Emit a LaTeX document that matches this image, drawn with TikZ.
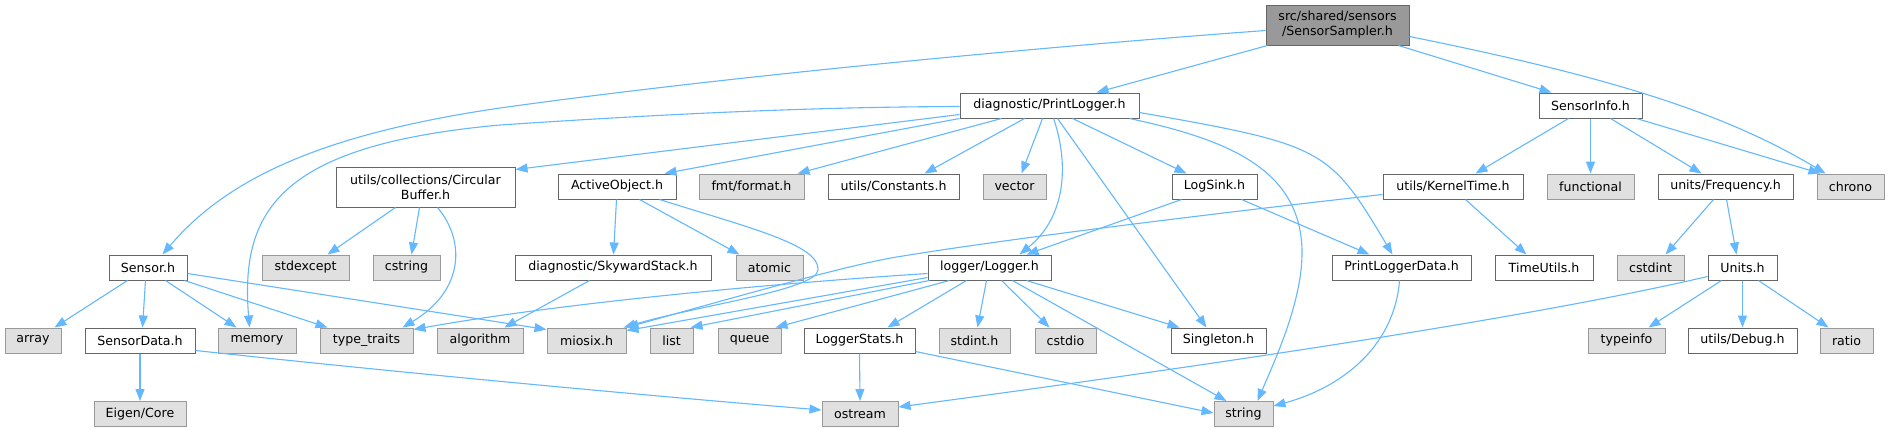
\documentclass[tikz,border=0pt]{standalone}
\usepackage{fontspec}
\setmainfont{DejaVu Sans}
\usetikzlibrary{arrows.meta}
\definecolor{edgec}{HTML}{63B8FF}
\definecolor{nodeborder}{HTML}{666666}
\definecolor{extfill}{HTML}{E0E0E0}
\definecolor{extborder}{HTML}{999999}
\definecolor{rootfill}{HTML}{999999}
\tikzset{
  base/.style={draw, line width=1pt, minimum height=25pt, inner sep=0pt, font=\fontsize{12.6}{15}\selectfont, align=center},
  intn/.style={base, fill=white, draw=nodeborder},
  extn/.style={base, fill=extfill, draw=extborder},
  rootn/.style={base, fill=rootfill, draw=nodeborder, minimum height=40pt},
  conn/.style={draw=edgec, line width=1.1pt, -{Triangle[length=12pt,width=9pt]}}
}
\begin{document}
\begin{tikzpicture}[x=1pt,y=-1pt]
\fill[white] (0,0) rectangle (1889,432);
\useasboundingbox (0,0) rectangle (1889,432);
% row 0
\node[rootn, minimum width=143pt] (root) at (1337.5,25) {src/shared/sensors\\/SensorSampler.h};
% row 1
\node[intn, minimum width=179pt] (pl) at (1049.5,105.5) {diagnostic/PrintLogger.h};
\node[intn, minimum width=103pt] (si) at (1590.5,105.5) {SensorInfo.h};
% row 2
\node[intn, minimum width=179pt, minimum height=40pt] (cb) at (425.5,187) {utils/collections/Circular\\Buffer.h};
\node[intn, minimum width=118pt] (ao) at (617,186.5) {ActiveObject.h};
\node[extn, minimum width=105pt] (fmt) at (751.5,186.5) {fmt/format.h};
\node[intn, minimum width=131pt] (cons) at (893.5,186.5) {utils/Constants.h};
\node[extn, minimum width=63pt] (vec) at (1014.5,186.5) {vector};
\node[intn, minimum width=85pt] (lsink) at (1214.5,186.5) {LogSink.h};
\node[intn, minimum width=140pt] (kt) at (1453,186.5) {utils/KernelTime.h};
\node[extn, minimum width=87pt] (func) at (1590.5,186.5) {functional};
\node[intn, minimum width=135pt] (freq) at (1725.5,186.5) {units/Frequency.h};
\node[extn, minimum width=67pt] (chrono) at (1850.5,186.5) {chrono};
% row 3
\node[intn, minimum width=78pt] (sensor) at (148,267.5) {Sensor.h};
\node[extn, minimum width=87pt] (stdexc) at (305.5,267.5) {stdexcept};
\node[extn, minimum width=67pt] (cstr) at (406.5,267.5) {cstring};
\node[intn, minimum width=196pt] (sky) at (613,267.5) {diagnostic/SkywardStack.h};
\node[extn, minimum width=67pt] (atomic) at (769.5,267.5) {atomic};
\node[intn, minimum width=123pt] (logger) at (989.5,267.5) {logger/Logger.h};
\node[intn, minimum width=139pt] (pld) at (1401.5,267.5) {PrintLoggerData.h};
\node[intn, minimum width=98pt] (tu) at (1544,267.5) {TimeUtils.h};
\node[extn, minimum width=67pt] (cstdint) at (1650.5,267.5) {cstdint};
\node[intn, minimum width=69pt] (units) at (1742.5,267.5) {Units.h};
% row 4
\node[extn, minimum width=56pt] (array) at (33,340.5) {array};
\node[intn, minimum width=110pt] (sdata) at (140,340.5) {SensorData.h};
\node[extn, minimum width=78pt] (memory) at (257,340.5) {memory};
\node[extn, minimum width=93pt] (tt) at (366.5,340.5) {type\_traits};
\node[extn, minimum width=86pt] (algo) at (480,340.5) {algorithm};
\node[extn, minimum width=79pt] (miosix) at (586.5,340.5) {miosix.h};
\node[extn, minimum width=43pt] (list) at (671.5,340.5) {list};
\node[extn, minimum width=63pt] (queue) at (749.5,340.5) {queue};
\node[intn, minimum width=111pt] (lstats) at (859.5,340.5) {LoggerStats.h};
\node[extn, minimum width=71pt] (stdint) at (974.5,340.5) {stdint.h};
\node[extn, minimum width=61pt] (cstdio) at (1065.5,340.5) {cstdio};
\node[intn, minimum width=95pt] (single) at (1218.5,340.5) {Singleton.h};
\node[extn, minimum width=77pt] (typeinfo) at (1626.5,340.5) {typeinfo};
\node[intn, minimum width=109pt] (debug) at (1742.5,340.5) {utils/Debug.h};
\node[extn, minimum width=53pt] (ratio) at (1846.5,340.5) {ratio};
% row 5
\node[extn, minimum width=92pt] (eigen) at (140,414) {Eigen/Core};
\node[extn, minimum width=76pt] (ostream) at (860,414) {ostream};
\node[extn, minimum width=59pt] (string) at (1243.5,414) {string};

% edges from root
\draw[conn] ([yshift=-26pt]root.north west) .. controls (1000,50) and (700,80) .. (500,108) .. controls (330,133) and (230,175) .. ([xshift=54pt]sensor.north west);
\draw[conn] ([xshift=2pt]root.south west) -- ([xshift=137pt]pl.north west);
\draw[conn] ([xshift=133pt]root.south west) -- ([xshift=13pt]si.north west);
\draw[conn] ([yshift=-32pt]root.north east) .. controls (1600,75) and (1720,110) .. ([xshift=9pt]chrono.north west);
% edges from PrintLogger
\draw[conn] ([yshift=-14pt]pl.north west) .. controls (800,107) and (650,115) .. (500,125) .. controls (280,145) and (240,210) .. ([xshift=32pt]memory.north west);
\draw[conn] ([yshift=-22pt]pl.north west) -- ([yshift=-3pt]cb.north east);
\draw[conn] (pl.south west) -- ([xshift=107pt]ao.north west);
\draw[conn] ([xshift=42pt]pl.south west) -- ([xshift=99pt]fmt.north west);
\draw[conn] ([xshift=65pt]pl.south west) -- ([xshift=97pt]cons.north west);
\draw[conn] ([xshift=83pt]pl.south west) -- ([xshift=39pt]vec.north west);
\draw[conn] ([xshift=94pt]pl.south west) .. controls (1068,160) and (1068,215) .. ([xshift=92pt]logger.north west);
\draw[conn] ([xshift=98pt]pl.south west) -- ([xshift=36pt]single.north west);
\draw[conn] ([xshift=113pt]pl.south west) -- ([xshift=15pt]lsink.north west);
\draw[conn] ([xshift=170pt]pl.south west) .. controls (1230,140) and (1300,170) .. (1302,250) .. controls (1303,300) and (1275,360) .. ([xshift=44pt]string.north west);
\draw[conn] ([yshift=-20pt]pl.north east) .. controls (1324,145) and (1329,148) .. ([xshift=61pt]pld.north west);
% edges from SensorInfo
\draw[conn] ([xshift=30pt]si.south west) -- ([xshift=93pt]kt.north west);
\draw[conn] (si.south) -- (func.north);
\draw[conn] ([xshift=72pt]si.south west) -- ([xshift=44pt]freq.north west);
\draw[conn] ([xshift=98pt]si.south west) -- ([xshift=4pt]chrono.north west);
% KernelTime
\draw[conn] ([xshift=83pt]kt.south west) -- ([xshift=32pt]tu.north west);
\draw[conn] ([yshift=-21pt]kt.north west) .. controls (1200,215) and (1000,240) .. (903,256) .. controls (860,262) and (760,290) .. (miosix.north east);
% ActiveObject
\draw[conn] ([xshift=59pt]ao.south west) -- ([xshift=99pt]sky.north west);
\draw[conn] ([xshift=82pt]ao.south west) -- ([xshift=4pt]atomic.north west);
\draw[conn] ([xshift=102pt]ao.south west) .. controls (750,228) and (820,245) .. (818,270) .. controls (816,290) and (700,305) .. ([xshift=-3pt]miosix.north east);
% Sensor
\draw[conn] ([xshift=19pt]sensor.south west) -- ([xshift=50pt]array.north west);
\draw[conn] ([xshift=37pt]sensor.south west) -- ([xshift=58pt]sdata.north west);
\draw[conn] ([xshift=57pt]sensor.south west) -- ([xshift=19pt]memory.north west);
\draw[conn] ([xshift=76pt]sensor.south west) -- ([xshift=8pt]tt.north west);
\draw[conn] ([yshift=-19pt]sensor.north east) -- ([yshift=-2pt]miosix.north west);
% CircularBuffer
\draw[conn] ([xshift=60pt]cb.south west) -- ([xshift=66pt]stdexc.north west);
\draw[conn] ([xshift=84pt]cb.south west) -- ([xshift=39pt]cstr.north west);
\draw[conn] ([xshift=102pt]cb.south west) .. controls (465,240) and (465,290) .. ([xshift=83pt]tt.north west);
% SkywardStack
\draw[conn] ([xshift=75pt]sky.south west) -- ([xshift=68pt]algo.north west);
% SensorData
\draw[conn] (sdata.south) -- (eigen.north);
\draw[conn] ([yshift=-23pt]sdata.north east) .. controls (450,378) and (700,400) .. ([yshift=-9pt]ostream.north west);
% LoggerStats
\draw[conn] (lstats.south) -- (ostream.north);
\draw[conn] ([yshift=-24pt]lstats.north east) -- ([yshift=-12pt]string.north west);
% Units
\draw[conn] ([yshift=-22pt]units.north west) .. controls (1500,325) and (1100,380) .. ([yshift=-6pt]ostream.north east);
\draw[conn] ([xshift=14pt]units.south west) -- ([xshift=61pt]typeinfo.north west);
\draw[conn] (units.south) -- (debug.north);
\draw[conn] ([xshift=51pt]units.south west) -- ([xshift=9pt]ratio.north west);
% Frequency
\draw[conn] ([xshift=56pt]freq.south west) -- ([xshift=49pt]cstdint.north west);
\draw[conn] ([xshift=69pt]freq.south west) -- ([xshift=29pt]units.north west);
% LogSink
\draw[conn] ([xshift=10pt]lsink.south west) -- ([xshift=99pt]logger.north west);
\draw[conn] ([xshift=70pt]lsink.south west) -- ([xshift=38pt]pld.north west);
% PrintLoggerData
\draw[conn] ([xshift=68pt]pld.south west) .. controls (1395,340) and (1350,385) .. ([yshift=-5pt]string.north east);
% Logger
\draw[conn] ([yshift=-19pt]logger.north west) .. controls (750,285) and (550,305) .. ([yshift=-2pt]tt.north east);
\draw[conn] ([yshift=-23pt]logger.north west) -- ([yshift=-3pt]miosix.north east);
\draw[conn] ([xshift=2pt]logger.south west) -- ([xshift=-3pt]list.north east);
\draw[conn] ([xshift=22pt]logger.south west) -- ([xshift=-6pt]queue.north east);
\draw[conn] ([xshift=39pt]logger.south west) -- ([xshift=84pt]lstats.north west);
\draw[conn] ([xshift=59pt]logger.south west) -- ([xshift=39pt]stdint.north west);
\draw[conn] ([xshift=74pt]logger.south west) -- ([xshift=15pt]cstdio.north west);
\draw[conn] ([xshift=85pt]logger.south west) -- ([xshift=13pt]string.north west);
\draw[conn] ([xshift=99pt]logger.south west) -- ([xshift=9pt]single.north west);
\end{tikzpicture}
\end{document}
